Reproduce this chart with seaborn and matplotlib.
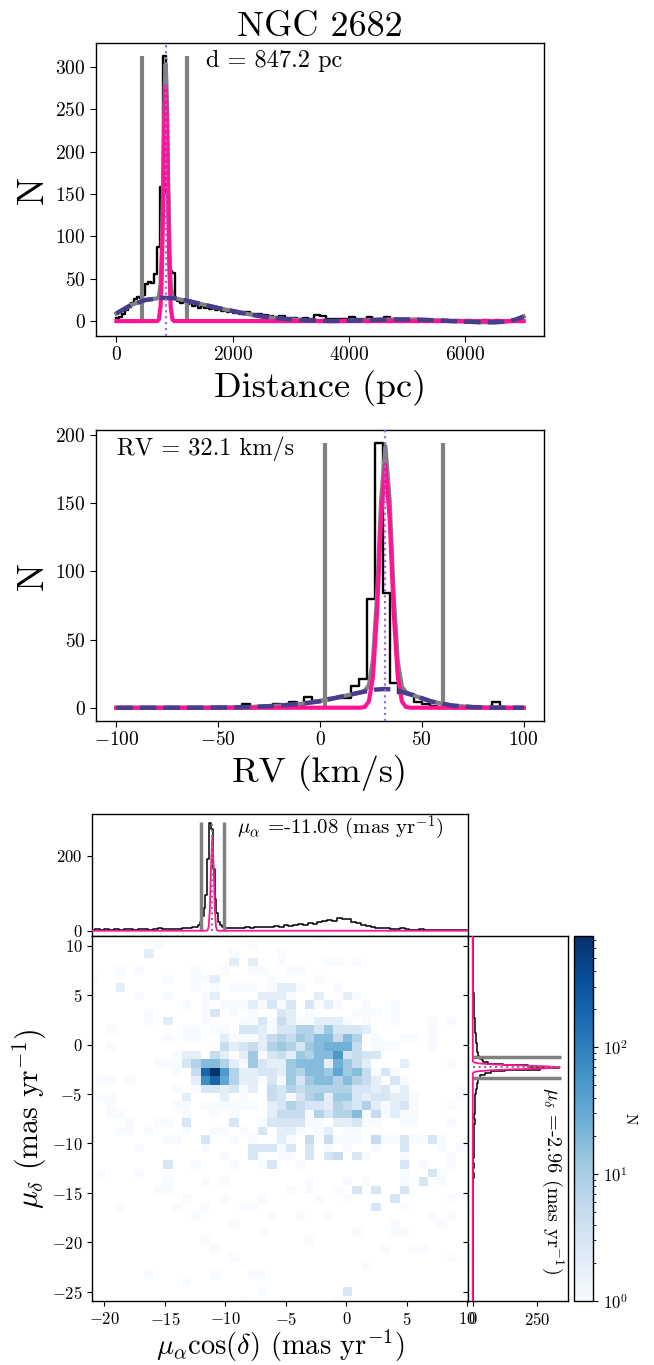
#!/usr/bin/env python3
"""
NGC 2682 membership diagnostics:
    distance histogram, RV histogram and proper-motion density with marginals.
"""
import numpy as np
import pandas as pd
import matplotlib
matplotlib.use("Agg")
import matplotlib.pyplot as plt
from matplotlib.colors import LogNorm
import seaborn as sns

# === Distance panel data ===
DIST_EDGES = np.concatenate([np.arange(0, 2000, 50), np.arange(2000, 7001, 100)])
dist_counts = [4, 5, 9, 13, 17, 22, 26, 28, 27, 31,
               44, 46, 45, 56, 88, 158, 313, 150, 59, 57,
               27, 24, 22, 25, 20, 21, 18, 19, 16, 18,
               15, 17, 14, 15, 13, 16, 12, 13, 11, 12,
               10, 9, 11, 8, 9, 7, 6, 5, 6, 4,
               4, 3, 4, 3, 7, 6, 3, 2, 2, 3,
               5, 2, 3, 5, 2, 2, 5, 1, 2, 1,
               1, 2, 1, 1, 0, 1, 1, 0, 1, 0,
               1, 0, 0, 1, 0, 1, 0, 0, 1, 0]
dist_bkg_x = [0, 250, 500, 800, 1000, 1250, 1500, 1750, 2000, 2250, 2500, 2750, 3000,
              3250, 3500, 3750, 4000, 4250, 4500, 4750, 5000, 5250, 5500, 5750, 6000,
              6250, 6500, 6700, 6850, 7000]
dist_bkg_y = [9, 19, 25, 27.5, 27, 23.5, 19.5, 15.5, 12, 8.5, 5.5, 3.5, 2,
              1, 0.3, 0.2, 0.5, 1, 1.5, 2, 2, 1.6, 1, 0.2, -0.6,
              -1.2, -1.3, -0.5, 1.5, 5.5]
dist_clu_x = [0, 700, 730, 760, 780, 800, 814, 830, 847, 864, 880, 894, 914, 934, 964, 994, 7000]
dist_clu_y = [0, 0.1, 1.9, 17, 54, 123, 185, 248, 276, 248, 185, 123, 54, 17, 1.9, 0.1, 0]
dist_tot_x = [0, 250, 500, 700, 730, 760, 780, 800, 814, 830, 847, 864, 880, 894, 914,
              934, 964, 994, 1250, 1500, 1750, 2000, 2250, 2500, 2750, 3000, 3250,
              3500, 3750, 4000, 4250, 4500, 4750, 5000, 5250, 5500, 5750, 6000, 6250,
              6500, 6700, 6850, 7000]
dist_tot_y = [9, 19, 25, 26.8, 29, 44, 81, 150, 212, 275, 303, 275, 212, 150, 81,
              44, 29, 27, 23.5, 19.5, 15.5, 12, 8.5, 5.5, 3.5, 2, 1,
              0.3, 0.2, 0.5, 1, 1.5, 2, 2, 1.6, 1, 0.2, -0.6, -1.2,
              -1.3, -0.5, 1.5, 5.5]
dist_mean = 847.2
dist_cuts = [440, 1219]
dist_cut_top = 313

# === RV panel data ===
RV_EDGES = np.linspace(-100, 100, 53)
rv_counts = [0, 0, 0, 0, 0, 0, 0, 0, 0, 0,
             0, 0, 0, 0, 0, 0, 3, 0, 1, 0,
             3, 1, 4, 2, 8, 5, 6, 7, 7, 7,
             16, 21, 80, 194, 84, 18, 11, 10, 4, 3,
             1, 0, 0, 0, 0, 0, 0, 0, 4, 0,
             0, 0]
rv_bkg_x = [-100, -60, -40, -30, -20, -10, 0, 10, 20, 27, 32, 37, 45, 55, 65, 75, 85, 100]
rv_bkg_y = [0, 0.05, 0.3, 0.8, 1.6, 2.8, 4.8, 8, 11.3, 13.3, 13.8, 13.2, 9.5, 4.5, 1.6, 0.5, 0.1, 0]
rv_clu_x = [-100, 20, 22, 24, 26, 28, 30, 32.1, 34.2, 36.2, 38.2, 40.2, 42.2, 44.2, 100]
rv_clu_y = [0, 0.06, 0.6, 4.7, 22.5, 70, 139, 178, 139, 70, 22.5, 4.7, 0.6, 0.06, 0]
rv_tot_x = [-100, -60, -40, -30, -20, -10, 0, 10, 20, 22, 24, 26, 28, 30, 32.1, 34.2,
            36.2, 38.2, 40.2, 42.2, 45, 55, 65, 75, 85, 100]
rv_tot_y = [0, 0.05, 0.3, 0.8, 1.6, 2.8, 4.8, 8, 11.4, 12.5, 16.6, 34.7, 82, 152, 192, 152,
            82.5, 34, 15.5, 11.5, 9.5, 4.5, 1.6, 0.5, 0.1, 0]
rv_mean = 32.1
rv_cuts = [2.3, 60.6]
rv_cut_top = 194

# === Proper motion data ===
PMRA_EDGES = np.concatenate([np.linspace(-21.2, -12.4, 23)[:-1],
                             np.linspace(-12.4, -10.0, 17)[:-1],
                             np.linspace(-10.0, 10.0, 51)])
pmra_counts = [3, 4, 2, 5, 3, 4, 3, 5, 4, 3, 4, 5, 3, 4, 6, 4, 5, 4, 5, 6, 7, 9,
               10, 14, 22, 38, 60, 95, 190, 287, 270, 165, 85, 48, 22, 14, 10, 8,
               7, 6, 8, 7, 9, 8, 10, 9, 11, 10, 12, 11, 14, 13, 15, 17, 16, 20, 19, 23,
               25, 28, 26, 35, 31, 30, 24, 20, 16, 13, 9, 8, 7, 6, 5, 4, 6, 4, 3, 3,
               4, 2, 2, 3, 2, 1, 2, 1, 2, 1]
pmra_fit_x = [-21.2, -11.58, -11.48, -11.38, -11.28, -11.18, -11.08, -10.98, -10.88,
              -10.78, -10.68, -10.58, 10.1]
pmra_fit_y = [0, 0.04, 1, 11, 63, 179, 253, 179, 63, 11, 1, 0.04, 0]
pmra_mean = -11.08
pmra_cuts = [-12.02, -10.10]
pmra_cut_top = 290

PMDEC_EDGES = np.concatenate([np.linspace(-26.0, -4.0, 45)[:-1],
                              np.linspace(-4.0, -0.8, 21)[:-1],
                              np.linspace(-0.8, 11.2, 25)])
pmdec_counts = [1, 0, 1, 0, 1, 1, 0, 1, 1, 2, 1, 1, 2, 1, 2, 2, 1, 2, 2, 3,
                2, 3, 2, 3, 3, 4, 3, 4, 3, 5, 4, 5, 6, 5, 7, 6, 8, 7, 9, 8,
                10, 11, 12, 15,
                17, 20, 22, 25, 28, 30, 48, 70, 125, 262, 338, 215, 120, 60, 41, 35,
                30, 26, 22, 20,
                17, 15, 14, 12, 11, 10, 9, 7, 6, 5, 4, 4, 3, 3, 2, 2, 2, 1, 1, 1,
                1, 0, 1, 0]
pmdec_fit_y = [-26.0, -2.9, -2.8, -2.7, -2.6, -2.5, -2.4, -2.3, -2.2, -2.1, -2.0,
               -1.9, -1.8, -1.7, 11.0]
pmdec_fit_x = [0, 0.7, 4.5, 21, 72, 170, 287, 340, 287, 170, 72, 21, 4.5, 0.7, 0]
pmdec_mean = -2.3
pmdec_cuts = [-1.3, -3.4]
pmdec_cut_top = 345

# 2D density: rows top (pm_dec high) to bottom, 41 columns of pm_ra bins
GRID_X0, GRID_DX = -21.41, 0.782
GRID_Y0, GRID_DY = 11.33, 0.854
LEVELS = {".": 0, "1": 1, "2": 2, "3": 3, "4": 5, "5": 8, "6": 12, "7": 18,
          "8": 25, "9": 35, "a": 50, "b": 70, "c": 120, "d": 200, "e": 400, "f": 700}
pm_grid = [
    ".......... ...1...... ....1..... .......... .",
    ".......1.. .......1.. .......... .......... .",
    "......2... .....1.... 1......... .......... .",
    ".......... .....2.2.. 1....11.1. .......... .",
    "...1.1.... .1..1..11. .11....... .......... .",
    "1.......1. .112.....1 ....1..... .......... .",
    "...2...... .1.1.111.1 221...1... .......... .",
    ".....1..1. ..12....22 21..2..21. .......... .",
    ".......... 1.1.111213 13.3121..1 ..1....... .",
    "......1... ..13.1.1.. 32.1....11 1.1....... .",
    "......1.2. ..1...1131 42112221.1 ..1...1.1. .",
    "..1....... 11.11.3321 3355363332 ......1... .",
    "........1. 11..211124 546577475. 1..11.1... .",
    "..1....... ....423425 653678884. 111...1... .",
    ".........1 22.42.2613 426577a343 3......... .",
    ".......111 3577521632 2677728642 ...2....1. .",
    ".........1 .4dfa52233 2657769674 131....... .",
    ".11.1..... .2bd952213 1636775754 2.31...... .",
    ".........1 .1332312.4 3545555533 2312.....1 .",
    ".11....... 2...2.1..4 3135626632 33221....1 .",
    "..1......1 1.111111.2 3543325435 21231...1. .",
    "..11...... 1..1.1...2 4441535571 41211..... .",
    "....1..11. 3....3..13 33311.2231 1..11...1. .",
    "...11.1... 1..11.1.3. 221.12.11. .......... .",
    "........11 ..3..1.1.. 21.414111. 41131131.. .",
    ".....1.... ..1....333 13.3.1.1.. 1..3...1.1 .",
    ".......... ....1..3.. 11.3.34.31 ...1....1. .",
    "........3. .1...1..13 ..1....... ...3.1..1. .",
    ".1...1.... .......... .......... ...1..31.. .",
    "........1. ..1.1..... ...1...1.1 ...1.3.1.. .",
    ".......11. .......... .1.1..1.3. 3..3...... .",
    ".......... 1...1...1. ....1..1.. ..3.....1. .",
    "...1.....1 ..1...11.. .......... 3..1...... .",
    ".......... .1.......1 ..1..1.... ......1.1. .",
    ".......... .....1.... .......... ..1....1.. .",
    ".......... ........1. ........1. ..11...... .",
    ".......... ..1....... ...1...... .......... .",
    ".......... ...1...... .......... .1..11.... .",
    ".......... .....1.... .......... ........1. .",
    ".......... .......... .........1 .......... .",
    "......1... ...1...11. .......... .......... .",
    ".......... 1......... .......... .......... .",
    ".......... ........1. .......3.. .......... .",
    ".......... ......1... ......1... .......... .",
]

# === Colors ===
PINK = "#FF1493"
PURPLE = "#483D8B"
DOT = "#9370DB"
GRAY = "gray"


def px_box(x0, y0, x1, y1, W=654, H=1365):
    return [x0 / W, 1 - y1 / H, (x1 - x0) / W, (y1 - y0) / H]


def centers(edges):
    edges = np.asarray(edges, dtype=float)
    return 0.5 * (edges[:-1] + edges[1:])


def grid_frame():
    rows = []
    for r, line in enumerate(pm_grid):
        cells = line.replace(" ", "")
        for c, ch in enumerate(cells):
            n = LEVELS[ch]
            if n > 0:
                rows.append({"x": GRID_X0 + GRID_DX * (c + 0.5),
                             "y": GRID_Y0 - GRID_DY * (r + 0.5),
                             "w": n})
    return pd.DataFrame(rows)


def draw_fit_panel(ax, edges, counts, tot_x, tot_y, clu_x, clu_y, bkg_x, bkg_y,
                   cuts, cut_top, mean):
    sns.histplot(x=centers(edges), weights=counts, bins=list(edges), element="step",
                 fill=False, color="k", linewidth=1.7, ax=ax, zorder=2)
    sns.lineplot(x=tot_x, y=tot_y, color=GRAY, linewidth=3, ax=ax, sort=False,
                 estimator=None, zorder=3)
    ax.vlines(cuts, 0, cut_top, color=GRAY, linewidth=3, zorder=3)
    sns.lineplot(x=clu_x, y=clu_y, color=PINK, linewidth=3, ax=ax, sort=False,
                 estimator=None, zorder=4)
    sns.lineplot(x=bkg_x, y=bkg_y, color=PURPLE, linewidth=3.2, linestyle="--",
                 ax=ax, sort=False, estimator=None, zorder=5)
    ax.axvline(mean, color=DOT, linestyle=":", linewidth=1.6, zorder=6)


def main():
    plt.rcParams["font.family"] = "cmr10"
    plt.rcParams["mathtext.fontset"] = "cm"
    plt.rcParams["axes.formatter.use_mathtext"] = True
    plt.rcParams["axes.unicode_minus"] = True
    plt.rcParams["axes.linewidth"] = 1.0

    fig = plt.figure(figsize=(6.54, 13.65), dpi=100)
    ax1 = fig.add_axes(px_box(96, 43, 544, 336))
    ax2 = fig.add_axes(px_box(96, 430, 544, 721))
    ax_top = fig.add_axes(px_box(92.3, 814, 468.3, 936))
    ax_main = fig.add_axes(px_box(92.3, 936, 468.3, 1301))
    ax_right = fig.add_axes(px_box(468.3, 936, 568.3, 1301))
    cax = fig.add_axes(px_box(574, 936, 593, 1301))

    # --- Distance ---
    draw_fit_panel(ax1, DIST_EDGES, dist_counts, dist_tot_x, dist_tot_y,
                   dist_clu_x, dist_clu_y, dist_bkg_x, dist_bkg_y,
                   dist_cuts, dist_cut_top, dist_mean)
    ax1.set_xlim(-350, 7350)
    ax1.set_ylim(-17.5, 328)
    ax1.set_xticks([0, 2000, 4000, 6000])
    ax1.set_yticks([0, 50, 100, 150, 200, 250, 300])
    ax1.set_title("NGC 2682", fontsize=26, pad=4)
    ax1.set_xlabel("Distance (pc)", fontsize=26)
    ax1.set_ylabel("N", fontsize=27)
    ax1.text(0.245, 0.94, "d = 847.2 pc", transform=ax1.transAxes, fontsize=17.5,
             va="center", ha="left")

    # --- RV ---
    draw_fit_panel(ax2, RV_EDGES, rv_counts, rv_tot_x, rv_tot_y,
                   rv_clu_x, rv_clu_y, rv_bkg_x, rv_bkg_y,
                   rv_cuts, rv_cut_top, rv_mean)
    ax2.set_xlim(-110, 110)
    ax2.set_ylim(-9.7, 203.7)
    ax2.set_xticks([-100, -50, 0, 50, 100])
    ax2.set_yticks([0, 50, 100, 150, 200])
    ax2.set_xlabel("RV (km/s)", fontsize=26)
    ax2.set_ylabel("N", fontsize=27)
    ax2.text(0.047, 0.935, "RV = 32.1 km/s", transform=ax2.transAxes, fontsize=17.5,
             va="center", ha="left")

    for ax in (ax1, ax2):
        ax.tick_params(labelsize=14, length=4)

    # --- PM density ---
    df = grid_frame()
    x_edges = GRID_X0 + GRID_DX * np.arange(len(pm_grid[0].replace(" ", "")) + 1)
    y_edges = (GRID_Y0 - GRID_DY * np.arange(len(pm_grid) + 1))[::-1]
    sns.histplot(data=df, x="x", y="y", weights="w",
                 bins=[list(x_edges), list(y_edges)], cmap="Blues", ax=ax_main)
    mesh = ax_main.collections[-1]
    mesh.set_norm(LogNorm(vmin=1, vmax=750))
    ax_main.set_xlim(-21.0, 10.07)
    ax_main.set_ylim(-25.94, 10.98)
    ax_main.set_xticks([-20, -15, -10, -5, 0, 5, 10])
    ax_main.set_yticks([-25, -20, -15, -10, -5, 0, 5, 10])
    ax_main.set_xlabel(r"$\mu_\alpha\cos(\delta)$ (mas yr$^{-1}$)", fontsize=20.5,
                       labelpad=0)
    ax_main.set_ylabel(r"$\mu_\delta$ (mas yr$^{-1}$)", fontsize=21.5, labelpad=2)
    ax_main.tick_params(labelsize=12)

    cb = fig.colorbar(mesh, cax=cax)
    cb.set_label("N", rotation=270, fontsize=11, labelpad=6)
    cax.tick_params(labelsize=12)

    # --- top marginal: pm_ra ---
    sns.histplot(x=centers(PMRA_EDGES), weights=pmra_counts, bins=list(PMRA_EDGES),
                 element="step", fill=False, color="k", linewidth=1.1, ax=ax_top)
    ax_top.vlines(pmra_cuts, 0, pmra_cut_top, color=GRAY, linewidth=2.5, zorder=3)
    sns.lineplot(x=pmra_fit_x, y=pmra_fit_y, color=PINK, linewidth=1.3, ax=ax_top,
                 sort=False, estimator=None, zorder=4)
    ax_top.vlines([pmra_mean], 0, pmra_cut_top, color=GRAY, linestyle=":",
                  linewidth=1.5, zorder=5)
    ax_top.set_xlim(-21.0, 10.07)
    ax_top.set_ylim(-14, 311)
    ax_top.set_yticks([0, 200])
    ax_top.set_xticks([-20, -15, -10, -5, 0, 5, 10])
    ax_top.tick_params(labelbottom=False, labelsize=12)
    ax_top.set_xlabel("")
    ax_top.set_ylabel("")
    ax_top.text(0.385, 0.885, r"$\mu_\alpha$ =-11.08 (mas yr$^{-1}$)",
                transform=ax_top.transAxes, fontsize=15, va="center", ha="left")

    # --- right marginal: pm_dec ---
    sns.histplot(y=centers(PMDEC_EDGES), weights=pmdec_counts, bins=list(PMDEC_EDGES),
                 element="step", fill=False, color="k", linewidth=1.1, ax=ax_right)
    ax_right.hlines(pmdec_cuts, 0, pmdec_cut_top, color=GRAY, linewidth=2.5, zorder=3)
    sns.lineplot(x=pmdec_fit_x, y=pmdec_fit_y, color=PINK, linewidth=1.3, ax=ax_right,
                 sort=False, estimator=None, orient="y", zorder=4)
    ax_right.hlines([pmdec_mean], 0, pmdec_cut_top, color=GRAY, linestyle=":",
                    linewidth=1.5, zorder=5)
    ax_right.set_ylim(-25.94, 10.98)
    ax_right.set_xlim(-17, 373)
    ax_right.set_xticks([0, 250])
    ax_right.set_yticks([-25, -20, -15, -10, -5, 0, 5, 10])
    ax_right.tick_params(labelleft=False, labelsize=12)
    ax_right.set_xlabel("")
    ax_right.set_ylabel("")
    ax_right.text(0.85, 0.33, r"$\mu_\delta$ =-2.96 (mas yr$^{-1}$)",
                  transform=ax_right.transAxes, fontsize=14.5, va="center",
                  ha="center", rotation=270)

    fig.savefig("out.png", dpi=100)
    plt.close(fig)


if __name__ == "__main__":
    main()
